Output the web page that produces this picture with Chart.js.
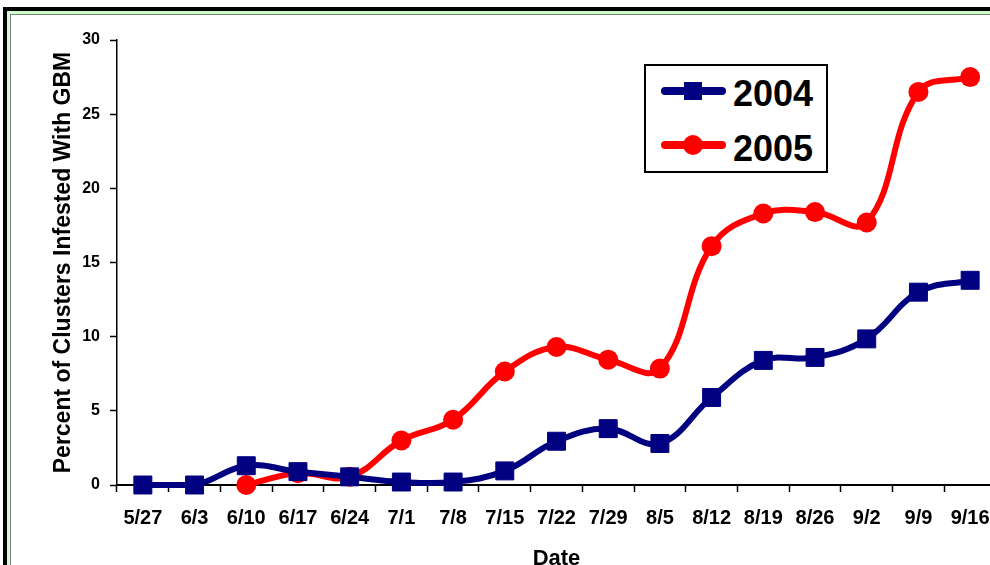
<!DOCTYPE html>
<html>
<head>
<meta charset="utf-8">
<script src="https://cdn.jsdelivr.net/npm/chart.js@4.4.1/dist/chart.umd.min.js"></script>
<style>
  html, body { margin:0; padding:0; width:990px; height:565px; overflow:hidden; background:#fff; }
  #frame { position:absolute; left:3px; top:7px; width:1200px; height:800px;
           border-left:4px solid #000; border-top:4px solid #000; box-sizing:border-box; }
  #frame2 { position:absolute; left:0; top:0; right:0; bottom:0;
           border-left:3px solid #ccffcc; border-top:3px solid #ccffcc; }
  #frame3 { position:absolute; left:0; top:0; right:0; bottom:0;
           border-left:1px solid #808080; border-top:1px solid #808080; }
  #wrap { position:absolute; left:0; top:0; width:1010px; height:600px; }
  #legend { position:absolute; left:644px; top:64px; width:184px; height:109px;
            border:2px solid #000; box-sizing:border-box; background:#fff;
            font-family:'Liberation Sans', Arial, sans-serif; font-weight:bold; }
  .lline { position:absolute; left:15px; width:65px; height:8px; border-radius:4px; }
  .ltext { position:absolute; left:87px; font-size:36px; line-height:36px; color:#000; }
</style>
</head>
<body>
<div id="frame"><div id="frame2"><div id="frame3"></div></div></div>
<div id="wrap"><canvas id="c" width="1010" height="600"></canvas></div>
<div id="legend">
  <div class="lline" style="top:21px;background:#000080"></div>
  <div style="position:absolute;left:38px;top:16px;width:18px;height:18px;background:#000080"></div>
  <div class="ltext" style="top:10px">2004</div>
  <div class="lline" style="top:75px;background:#ff0000"></div>
  <div style="position:absolute;left:37px;top:69px;width:20px;height:20px;border-radius:10px;background:#ff0000"></div>
  <div class="ltext" style="top:65px">2005</div>
</div>
<script>
const categories = ['5/27','6/3','6/10','6/17','6/24','7/1','7/8','7/15','7/22','7/29','8/5','8/12','8/19','8/26','9/2','9/9','9/16'];
const series2004 = [0, 0, 1.3, 0.9, 0.55, 0.2, 0.2, 0.95, 2.95, 3.8, 2.8, 5.9, 8.4, 8.6, 9.85, 13.0, 13.8];
const series2005 = [null, null, 0, 0.8, 0.55, 3.0, 4.4, 7.65, 9.3, 8.45, 7.85, 16.1, 18.3, 18.4, 17.7, 26.5, 27.5];
const yTicks = [0, 5, 10, 15, 20, 25, 30];
const xTitle = 'Date';
const yTitle = 'Percent of Clusters Infested With GBM';

const FONT = "'Liberation Sans', Arial, sans-serif";

new Chart(document.getElementById('c'), {
  type: 'line',
  data: {
    labels: categories,
    datasets: [
      {
        label: '2004', data: series2004,
        borderColor: '#000080', backgroundColor: '#000080',
        borderWidth: 6, tension: 0.4, fill: false,
        pointStyle: 'rect', pointRadius: 12.7, pointBorderWidth: 1,
        pointBackgroundColor: '#000080', pointBorderColor: '#000080',
        clip: false
      },
      {
        label: '2005', data: series2005,
        borderColor: '#ff0000', backgroundColor: '#ff0000',
        borderWidth: 6, tension: 0.4, fill: false,
        pointStyle: 'circle', pointRadius: 10, pointBorderWidth: 0,
        pointBackgroundColor: '#ff0000', pointBorderColor: '#ff0000',
        clip: false
      }
    ]
  },
  options: {
    responsive: false,
    animation: false,
    layout: { padding: { left: 0, right: 14, top: 40, bottom: 0 } },
    plugins: { legend: { display: false }, tooltip: { enabled: false } },
    scales: {
      x: {
        type: 'category',
        offset: true,
        afterFit: s => { s.height = 115; },
        border: { display: true, color: '#000', width: 2 },
        grid: { display: true, drawOnChartArea: false, drawTicks: true, tickLength: 7, tickColor: '#000', tickWidth: 1.5, offset: true },
        ticks: { color: '#000', font: { family: FONT, size: 20, weight: 'bold' }, padding: 14, maxRotation: 0, autoSkip: false },
        title: { display: true, text: xTitle, color: '#000', font: { family: FONT, size: 22, weight: 'bold' }, padding: { top: 0, bottom: 28 } }
      },
      y: {
        min: 0, max: 30,
        afterFit: s => { s.width = 117; },
        afterBuildTicks: s => { s.ticks = yTicks.map(v => ({ value: v })); },
        border: { display: true, color: '#000', width: 1.5 },
        grid: { display: true, drawOnChartArea: false, drawTicks: true, tickLength: 7, tickColor: '#000', tickWidth: 1.5 },
        ticks: { color: '#000', font: { family: FONT, size: 16, weight: 'bold' }, padding: 10 },
        title: { display: true, text: yTitle, color: '#000', font: { family: FONT, size: 23, weight: 'bold' }, padding: { top: 50, bottom: 0 } }
      }
    }
  }
});
</script>
</body>
</html>
